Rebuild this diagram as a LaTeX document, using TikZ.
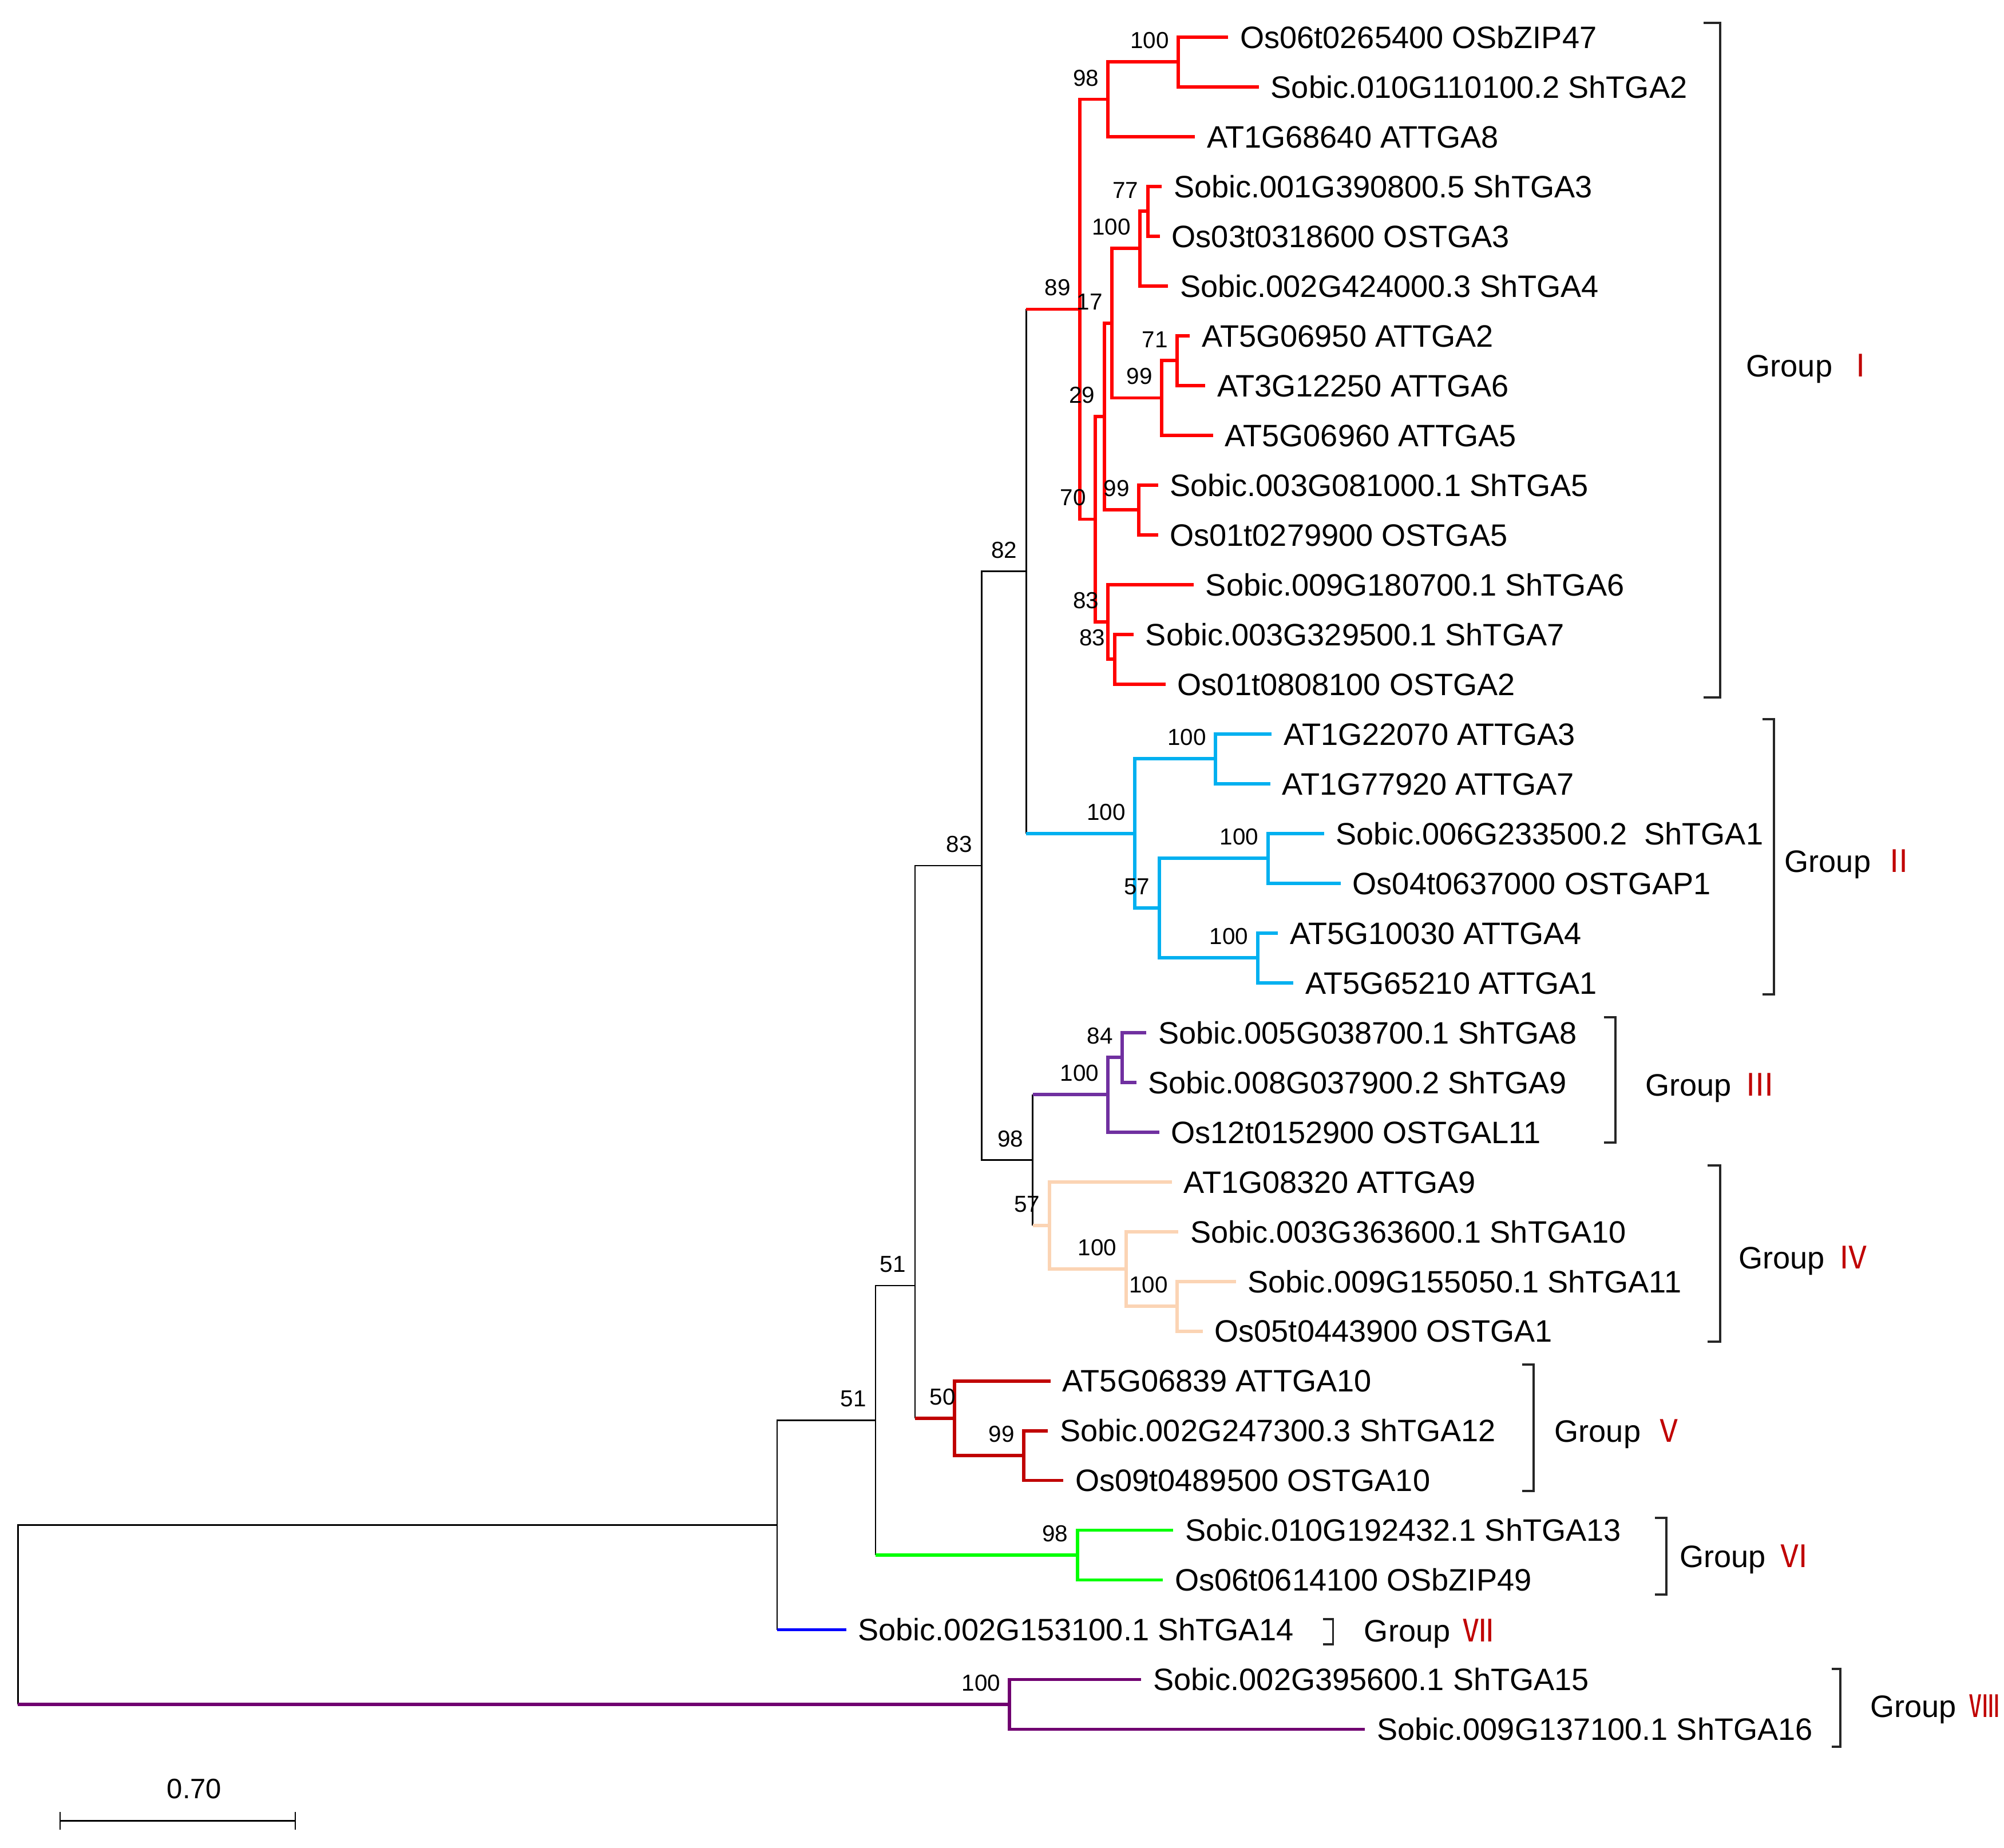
\documentclass[tikz,border=0pt]{standalone}
\usepackage{fontspec}
\setmainfont{Liberation Sans}
\newfontfamily\romanfont{Noto Sans CJK SC}
\definecolor{cI}{HTML}{FF0000}
\definecolor{cII}{HTML}{00B0F0}
\definecolor{cIII}{HTML}{7030A0}
\definecolor{cIV}{HTML}{FBD4B4}
\definecolor{cV}{HTML}{C00000}
\definecolor{cVI}{HTML}{00FF00}
\definecolor{cVII}{HTML}{0000FF}
\definecolor{cVIII}{HTML}{700070}
\definecolor{numred}{HTML}{C00000}

\begin{document}
\begin{tikzpicture}
[x=0.02cm, y=-0.02cm,
 leaf/.style={anchor=west, inner xsep=0.18cm, inner ysep=0pt, font=\fontsize{13.8}{16}\selectfont, text height=9.9pt, text depth=0pt},
 boot/.style={anchor=south east, inner sep=0pt, xshift=-0.14cm, yshift=0.2cm, font=\fontsize{10.3}{12}\selectfont},
 branch/.style={line width=1.5pt},
 stem/.style={line width=0.65pt, black},
 grp/.style={anchor=west, inner sep=0pt, font=\fontsize{13.8}{16}\selectfont, text height=9.9pt, text depth=0pt},
 bracket/.style={line width=1pt, black!85}]
\useasboundingbox (0,0) rectangle (1568,1446);

\node[leaf]	(l1)	at (961,29)	{Os06t0265400 OSbZIP47};
\node[leaf]	(l2)	at (985,67.95)	{Sobic.010G110100.2 ShTGA2};
\node[leaf]	(l3)	at (935,106.9)	{AT1G68640 ATTGA8};
\node[leaf]	(l4)	at (909,145.85)	{Sobic.001G390800.5 ShTGA3};
\node[leaf]	(l5)	at (907.5,184.8)	{Os03t0318600 OSTGA3};
\node[leaf]	(l6)	at (914,223.75)	{Sobic.002G424000.3 ShTGA4};
\node[leaf]	(l7)	at (931,262.7)	{AT5G06950 ATTGA2};
\node[leaf]	(l8)	at (943,301.65)	{AT3G12250 ATTGA6};
\node[leaf]	(l9)	at (949,340.6)	{AT5G06960 ATTGA5};
\node[leaf]	(l10)	at (906,379.55)	{Sobic.003G081000.1 ShTGA5};
\node[leaf]	(l11)	at (906,418.5)	{Os01t0279900 OSTGA5};
\node[leaf]	(l12)	at (934,457.45)	{Sobic.009G180700.1 ShTGA6};
\node[leaf]	(l13)	at (887,496.4)	{Sobic.003G329500.1 ShTGA7};
\node[leaf]	(l14)	at (912,535.35)	{Os01t0808100 OSTGA2};
\node[leaf]	(l15)	at (995,574.3)	{AT1G22070 ATTGA3};
\node[leaf]	(l16)	at (994,613.25)	{AT1G77920 ATTGA7};
\node[leaf]	(l17)	at (1036,652.2)	{Sobic.006G233500.2\ \ ShTGA1};
\node[leaf]	(l18)	at (1049,691.15)	{Os04t0637000 OSTGAP1};
\node[leaf]	(l19)	at (1000,730.1)	{AT5G10030 ATTGA4};
\node[leaf]	(l20)	at (1012,769.05)	{AT5G65210 ATTGA1};
\node[leaf]	(l21)	at (897,808)	{Sobic.005G038700.1 ShTGA8};
\node[leaf]	(l22)	at (889,846.95)	{Sobic.008G037900.2 ShTGA9};
\node[leaf]	(l23)	at (907,885.9)	{Os12t0152900 OSTGAL11};
\node[leaf]	(l24)	at (917,924.85)	{AT1G08320 ATTGA9};
\node[leaf]	(l25)	at (922,963.8)	{Sobic.003G363600.1 ShTGA10};
\node[leaf]	(l26)	at (967,1002.75)	{Sobic.009G155050.1 ShTGA11};
\node[leaf]	(l27)	at (941,1041.7)	{Os05t0443900 OSTGA1};
\node[leaf]	(l28)	at (822,1080.65)	{AT5G06839 ATTGA10};
\node[leaf]	(l29)	at (820,1119.6)	{Sobic.002G247300.3 ShTGA12};
\node[leaf]	(l30)	at (832,1158.55)	{Os09t0489500 OSTGA10};
\node[leaf]	(l31)	at (918,1197.5)	{Sobic.010G192432.1 ShTGA13};
\node[leaf]	(l32)	at (910,1236.45)	{Os06t0614100 OSbZIP49};
\node[leaf]	(l33)	at (662,1275.4)	{Sobic.002G153100.1 ShTGA14};
\node[leaf]	(l34)	at (893,1314.35)	{Sobic.002G395600.1 ShTGA15};
\node[leaf]	(l35)	at (1068,1353.3)	{Sobic.009G137100.1 ShTGA16};

\coordinate (nD) at (922,48.5);
\coordinate (nC) at (867,77.7);
\coordinate (nI) at (898,165.3);
\coordinate (nH) at (892,194.5);
\coordinate (nK) at (921,282.2);
\coordinate (nJ) at (909,311.4);
\coordinate (nG) at (870,253);
\coordinate (nL) at (891,399);
\coordinate (nF) at (864,326);
\coordinate (nN) at (872,515.9);
\coordinate (nM) at (867,486.7);
\coordinate (nE) at (857,406.3);
\coordinate (nB) at (845,242);
\coordinate (nP) at (951,593.8);
\coordinate (nQ) at (992,671.7);
\coordinate (nR) at (984,749.6);
\coordinate (nS) at (907,710.6);
\coordinate (nT) at (888,652.2);
\coordinate (nA) at (803,447.1);
\coordinate (nU) at (878,827.5);
\coordinate (nV) at (867,856.7);
\coordinate (nW) at (921,1022.2);
\coordinate (nX) at (881,993);
\coordinate (nY) at (821,958.9);
\coordinate (nZ) at (808,907.8);
\coordinate (nAA) at (768,677.5);
\coordinate (nAB) at (801,1139.1);
\coordinate (nAC) at (747,1109.9);
\coordinate (nP3) at (716,1006);
\coordinate (nG6) at (843,1217);
\coordinate (nP2) at (685,1111.5);
\coordinate (nP1) at (608,1193.5);
\coordinate (nQ8) at (790,1333.8);
\coordinate (nRoot) at (14,1263);

\draw[branch,cI] (l1.west) -| (nD) |- (l2.west);
\draw[branch,cI] (nD) -| (nC) |- (l3.west);
\draw[branch,cI] (l4.west) -| (nI) |- (l5.west);
\draw[branch,cI] (nI) -| (nH) |- (l6.west);
\draw[branch,cI] (l7.west) -| (nK) |- (l8.west);
\draw[branch,cI] (nK) -| (nJ) |- (l9.west);
\draw[branch,cI] (nH) -| (nG) |- (nJ);
\draw[branch,cI] (l10.west) -| (nL) |- (l11.west);
\draw[branch,cI] (nG) -| (nF) |- (nL);
\draw[branch,cI] (l13.west) -| (nN) |- (l14.west);
\draw[branch,cI] (l12.west) -| (nM) |- (nN);
\draw[branch,cI] (nF) -| (nE) |- (nM);
\draw[branch,cI] (nC) -| (nB) |- (nE);
\draw[branch,cII] (l15.west) -| (nP) |- (l16.west);
\draw[branch,cII] (l17.west) -| (nQ) |- (l18.west);
\draw[branch,cII] (l19.west) -| (nR) |- (l20.west);
\draw[branch,cII] (nQ) -| (nS) |- (nR);
\draw[branch,cII] (nP) -| (nT) |- (nS);
\draw[stem] (nB -| nA) -- (nT -| nA);
\draw[branch,cI] (nB -| nA) -- (nB);
\draw[branch,cII] (nT -| nA) -- (nT);
\draw[branch,cIII] (l21.west) -| (nU) |- (l22.west);
\draw[branch,cIII] (nU) -| (nV) |- (l23.west);
\draw[branch,cIV] (l26.west) -| (nW) |- (l27.west);
\draw[branch,cIV] (l25.west) -| (nX) |- (nW);
\draw[branch,cIV] (l24.west) -| (nY) |- (nX);
\draw[stem] (nV -| nZ) -- (nY -| nZ);
\draw[branch,cIII] (nV -| nZ) -- (nV);
\draw[branch,cIV] (nY -| nZ) -- (nY);
\draw[stem] (nA) -| (nAA) |- (nZ);
\draw[branch,cV] (l29.west) -| (nAB) |- (l30.west);
\draw[branch,cV] (l28.west) -| (nAC) |- (nAB);
\draw[stem] (nAA) -| (nP3) -- (nAC -| nP3);
\draw[branch,cV] (nAC -| nP3) -- (nAC);
\draw[branch,cVI] (l31.west) -| (nG6) |- (l32.west);
\draw[stem] (nP3) -| (nP2) -- (nG6 -| nP2);
\draw[branch,cVI] (nG6 -| nP2) -- (nG6);
\draw[stem] (nP2) -| (nP1) -- (l33.west -| nP1);
\draw[branch,cVII] (l33.west -| nP1) -- (l33.west);
\draw[branch,cVIII] (l34.west) -| (nQ8) |- (l35.west);
\draw[stem] (nP1) -| (nRoot) -- (nQ8 -| nRoot);
\draw[branch,cVIII] (nQ8 -| nRoot) -- (nQ8);

\node[boot] (bD) at (nD) {100};
\node[boot] (bC) at (nC) {98};
\node[boot] (bI) at (nI) {77};
\node[boot] (bH) at (nH) {100};
\node[boot] (bK) at (nK) {71};
\node[boot] (bJ) at (nJ) {99};
\node[boot] (bG) at (nG) {17};
\node[boot] (bL) at (nL) {99};
\node[boot] (bF) at (nF) {29};
\node[boot] (bN) at (nN) {83};
\node[boot] (bM) at (nM) {83};
\node[boot] (bE) at (nE) {70};
\node[boot] (bB) at (nB) {89};
\node[boot] (bP) at (nP) {100};
\node[boot] (bQ) at (nQ) {100};
\node[boot] (bR) at (nR) {100};
\node[boot] (bS) at (nS) {57};
\node[boot] (bT) at (nT) {100};
\node[boot] (bA) at (nA) {82};
\node[boot] (bU) at (nU) {84};
\node[boot] (bV) at (nV) {100};
\node[boot] (bW) at (nW) {100};
\node[boot] (bX) at (nX) {100};
\node[boot] (bY) at (nY) {57};
\node[boot] (bZ) at (nZ) {98};
\node[boot] (bAA) at (nAA) {83};
\node[boot] (bAB) at (nAB) {99};
\node[boot, xshift=0.16cm] (bAC) at (nAC) {50};
\node[boot] (bP3) at (nP3) {51};
\node[boot] (bG6) at (nG6) {98};
\node[boot] (bP2) at (nP2) {51};
\node[boot] (bQ8) at (nQ8) {100};

\draw[bracket] (1333,18) -| (1346,546) -- (1333,546);
\draw[bracket] (1379,563) -| (1388,778) -- (1379,778);
\draw[bracket] (1255,796) -| (1264,894) -- (1255,894);
\draw[bracket] (1336,912) -| (1346,1050) -- (1336,1050);
\draw[bracket] (1191,1068) -| (1200,1167) -- (1191,1167);
\draw[bracket] (1295,1188) -| (1304,1248) -- (1295,1248);
\draw[bracket] (1035,1267) -| (1043,1287) -- (1035,1287);
\draw[bracket] (1433,1306) -| (1440,1367) -- (1433,1367);

\node[grp] (gI)	at (1366,286)	{Group\hspace{0.2cm}{\romanfont\color{numred}Ⅰ}};
\node[grp] (gII)	at (1396,674)	{Group\hspace{0.2cm}{\romanfont\color{numred}Ⅱ}};
\node[grp] (gIII)	at (1287,849)	{Group\hspace{0.2cm}{\romanfont\color{numred}Ⅲ}};
\node[grp] (gIV)	at (1360,984)	{Group\hspace{0.2cm}{\romanfont\color{numred}Ⅳ}};
\node[grp] (gV)	at (1216,1120)	{Group\hspace{0.2cm}{\romanfont\color{numred}Ⅴ}};
\node[grp] (gVI)	at (1314,1218)	{Group\hspace{0.2cm}{\romanfont\color{numred}Ⅵ}};
\node[grp] (gVII)	at (1067,1276)	{Group\hspace{0.2cm}{\romanfont\color{numred}Ⅶ}};
\node[grp] (gVIII)	at (1463,1335)	{Group\hspace{0.2cm}{\romanfont\color{numred}Ⅷ}};

\coordinate (sbL) at (47,1425);
\coordinate (sbR) at (231,1425);
\draw[stem] (sbL) -- (sbR);
\draw[stem] ([yshift=0.14cm]sbL) -- ([yshift=-0.14cm]sbL);
\draw[stem] ([yshift=0.14cm]sbR) -- ([yshift=-0.14cm]sbR);
\node[inner sep=0pt, font=\fontsize{12.5}{14}\selectfont] (sbtext) at (152,1400) {0.70};
\end{tikzpicture}
\end{document}
